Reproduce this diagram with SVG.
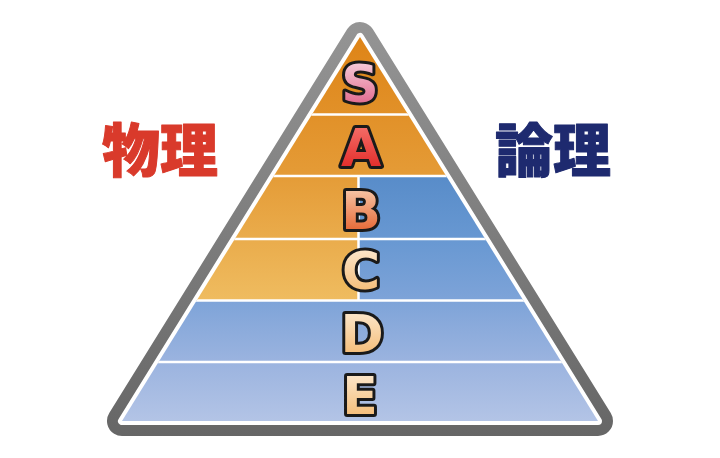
<svg xmlns="http://www.w3.org/2000/svg" width="720" height="458" viewBox="0 0 720 458">
  <defs>
    <linearGradient id="grey" x1="0" y1="20" x2="0" y2="438" gradientUnits="userSpaceOnUse">
      <stop offset="0" stop-color="#959595"/>
      <stop offset="1" stop-color="#666666"/>
    </linearGradient>
    <linearGradient id="orange" x1="0" y1="37" x2="0" y2="301" gradientUnits="userSpaceOnUse">
      <stop offset="0" stop-color="#DE8417"/>
      <stop offset="0.5" stop-color="#E49A35"/>
      <stop offset="1" stop-color="#EFBC60"/>
    </linearGradient>
    <linearGradient id="blue" x1="0" y1="176" x2="0" y2="421" gradientUnits="userSpaceOnUse">
      <stop offset="0" stop-color="#588CC9"/>
      <stop offset="0.26" stop-color="#6898D2"/>
      <stop offset="0.5" stop-color="#7DA3D8"/>
      <stop offset="0.75" stop-color="#9AB3DF"/>
      <stop offset="1" stop-color="#B3C4E6"/>
    </linearGradient>
    <linearGradient id="gS" x1="0" y1="0" x2="0" y2="1">
      <stop offset="0" stop-color="#FBDDE6"/>
      <stop offset="1" stop-color="#DC557E"/>
    </linearGradient>
    <linearGradient id="gA" x1="0" y1="0" x2="0" y2="1">
      <stop offset="0" stop-color="#F77A74"/>
      <stop offset="1" stop-color="#DE1D1B"/>
    </linearGradient>
    <linearGradient id="gB" x1="0" y1="0" x2="0" y2="1">
      <stop offset="0" stop-color="#FAD8BC"/>
      <stop offset="1" stop-color="#E2521B"/>
    </linearGradient>
    <linearGradient id="gC" x1="0" y1="0" x2="0" y2="1">
      <stop offset="0" stop-color="#FDEEDA"/>
      <stop offset="1" stop-color="#F3B466"/>
    </linearGradient>
    <clipPath id="tri">
      <polygon points="360,37 122,421 598,421"/>
    </clipPath>
  </defs>
  <style>
    .ltr { font-family: "DejaVu Sans", "Liberation Sans", sans-serif; font-weight: bold; font-size: 52px; text-anchor: middle; stroke: #1a1a1a; stroke-width: 6; stroke-linejoin: round; paint-order: stroke fill; }
    .side { font-family: "Noto Sans CJK JP", "Noto Sans CJK SC", sans-serif; font-weight: 900; font-size: 58px; text-anchor: middle; stroke-width: 1; stroke-linejoin: round; }
    .div { stroke: #FFFFFF; stroke-width: 2.5; fill: none; }
  </style>
  <rect x="0" y="0" width="720" height="458" fill="#FFFFFF"/>

  <g id="frame">
    <polygon points="360,37 122,421 598,421" fill="url(#grey)" stroke="url(#grey)" stroke-width="30" stroke-linejoin="round"/>
    <polygon points="360,37 122,421 598,421" fill="#FFFFFF" stroke="#FFFFFF" stroke-width="8" stroke-linejoin="round"/>
  </g>

  <g id="bands" clip-path="url(#tri)">
    <rect id="band-S" x="100" y="30" width="520" height="84.5" fill="url(#orange)"/>
    <rect id="band-A" x="100" y="114.5" width="520" height="61.5" fill="url(#orange)"/>
    <rect id="band-B-left" x="100" y="176" width="258" height="63" fill="url(#orange)"/>
    <rect id="band-B-right" x="358" y="176" width="262" height="63" fill="url(#blue)"/>
    <rect id="band-C-left" x="100" y="239" width="258" height="61.5" fill="url(#orange)"/>
    <rect id="band-C-right" x="358" y="239" width="262" height="61.5" fill="url(#blue)"/>
    <rect id="band-D" x="100" y="300.5" width="520" height="61.5" fill="url(#blue)"/>
    <rect id="band-E" x="100" y="362" width="520" height="70" fill="url(#blue)"/>
  </g>

  <g id="connectors" clip-path="url(#tri)">
    <line class="div" x1="100" y1="114.5" x2="620" y2="114.5"/>
    <line class="div" x1="100" y1="176" x2="620" y2="176"/>
    <line class="div" x1="100" y1="239" x2="620" y2="239"/>
    <line class="div" x1="100" y1="300.5" x2="620" y2="300.5"/>
    <line class="div" x1="100" y1="362" x2="620" y2="362"/>
    <line class="div" x1="358.5" y1="176" x2="358.5" y2="300.5"/>
  </g>

  <g id="label-S"><text class="ltr" x="360" y="102" fill="url(#gS)">S</text></g>
  <g id="label-A"><text class="ltr" x="361" y="166" fill="url(#gA)">A</text></g>
  <g id="label-B"><text class="ltr" x="361" y="229" fill="url(#gB)">B</text></g>
  <g id="label-C"><text class="ltr" x="361" y="289" fill="url(#gC)">C</text></g>
  <g id="label-D"><text class="ltr" x="362" y="352" fill="url(#gC)">D</text></g>
  <g id="label-E"><text class="ltr" x="360" y="414" fill="url(#gC)">E</text></g>

  <g id="physical"><text class="side" x="160" y="172" fill="#D93A2B" stroke="#D93A2B">物理</text></g>
  <g id="logical"><text class="side" x="553" y="172" fill="#1E2A6F" stroke="#1E2A6F">論理</text></g>
</svg>
